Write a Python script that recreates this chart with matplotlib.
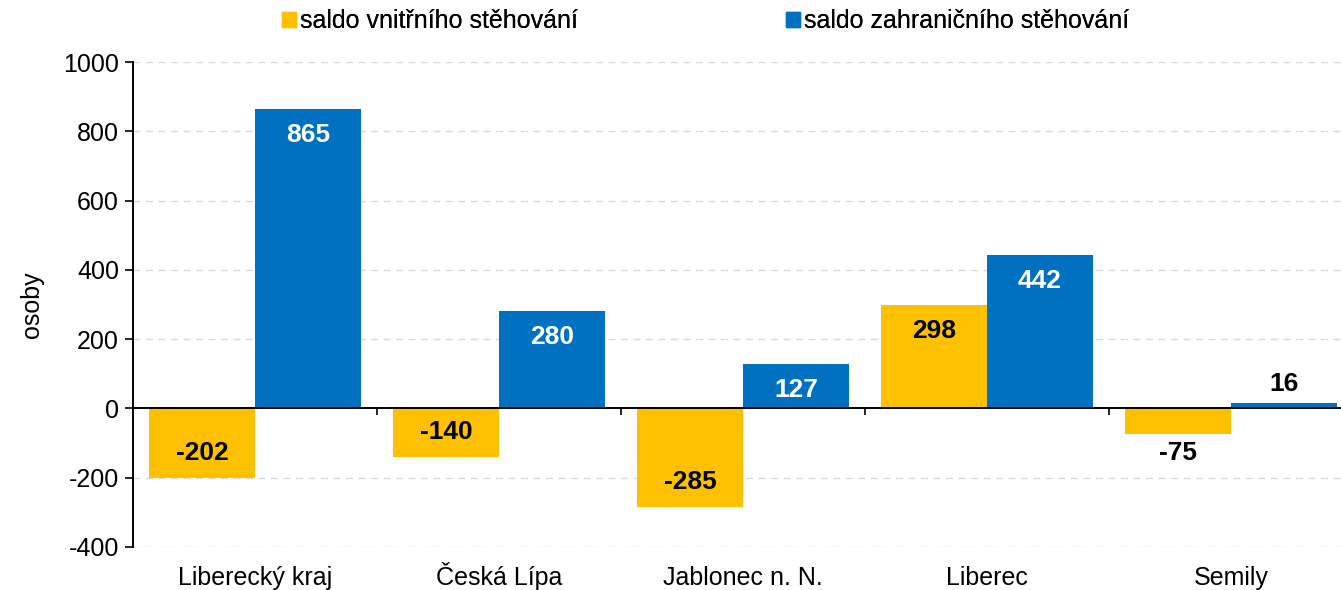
import matplotlib.pyplot as plt
from matplotlib.patches import Patch

plt.rcParams['font.family'] = ['Liberation Sans', 'DejaVu Sans']
plt.rcParams['axes.unicode_minus'] = False

kategorie = ['Liberecký kraj', 'Česká Lípa', 'Jablonec n. N.', 'Liberec', 'Semily']
saldo_vnitrni = [-202, -140, -285, 298, -75]
saldo_zahranicni = [865, 280, 127, 442, 16]

oranzova = '#FFC000'
modra = '#0070C0'

fig = plt.figure(figsize=(13.41, 5.9), dpi=100)
ax = fig.add_axes([133 / 1341, 1 - 547 / 590, 1 - 133 / 1341, (547 - 62) / 590])

x = list(range(len(kategorie)))
w = 0.434
ax.bar([i - w / 2 for i in x], saldo_vnitrni, width=w, color=oranzova, zorder=3)
ax.bar([i + w / 2 for i in x], saldo_zahranicni, width=w, color=modra, zorder=3)

ax.set_ylim(-400, 1000)
ax.set_xlim(-0.5, -0.5 + (1341 - 133) / 244)
ax.set_yticks(range(-400, 1001, 200))
ax.tick_params(axis='y', labelsize=18, length=6, direction='out', width=1.2, pad=4)
ax.set_xticks([])

for s in ['top', 'right', 'bottom']:
    ax.spines[s].set_visible(False)
ax.spines['left'].set_linewidth(1.4)

# popisky kategorii (zarovnane na uctari)
for i, k in enumerate(kategorie):
    ax.text(i, -38 / 485, k, transform=ax.get_xaxis_transform(), ha='center',
            va='baseline', fontsize=18)

# mrizka
for v in range(-400, 1001, 200):
    if v != 0:
        ax.axhline(v, color='#d9d9d9', linestyle=(0, (5, 4)), linewidth=1, zorder=1)
ax.axhline(0, color='black', linewidth=1.4, zorder=4)

# znacky mezi kategoriemi na nulove ose
sec = ax.secondary_xaxis(400 / 1400)
sec.set_xticks([i + 0.5 for i in range(len(kategorie) - 1)])
sec.set_xticklabels([])
sec.tick_params(length=5, width=1.2)
sec.spines['bottom'].set_visible(False)

ax.set_ylabel('osoby', fontsize=18, labelpad=14)

# popisky hodnot
px = 1400 / 485  # jednotek na pixel
for i, v in enumerate(saldo_vnitrni):
    if v > 0:
        y = v - 26 * px
    elif v < -100:
        y = v + 25 * px
    else:
        y = v - 19 * px
    ax.text(i - w / 2, y, str(v), ha='center', va='center',
            fontsize=19, fontweight='bold', color='black', zorder=5)
for i, v in enumerate(saldo_zahranicni):
    if v > 60:
        ax.text(i + w / 2, v - 26 * px, str(v), ha='center', va='center',
                fontsize=19, fontweight='bold', color='white', zorder=5)
    else:
        ax.text(i + w / 2, v + 19 * px, str(v), ha='center', va='center',
                fontsize=19, fontweight='bold', color='black', zorder=5)

# legenda - dve polozky zvlast
polozky = [(oranzova, 'saldo vnitřního stěhování', 282),
           (modra, 'saldo zahraničního stěhování', 786)]
for barva, text, xpos in polozky:
    leg = fig.legend(handles=[Patch(color=barva, label=text)], loc='center left',
                     bbox_to_anchor=(xpos / 1341, 1 - 21 / 590), frameon=False,
                     fontsize=18, handlelength=0.55, handleheight=0.55,
                     handletextpad=0.15, borderpad=0, borderaxespad=0)
    fig.add_artist(leg)

fig.savefig('out.png', dpi=100)
